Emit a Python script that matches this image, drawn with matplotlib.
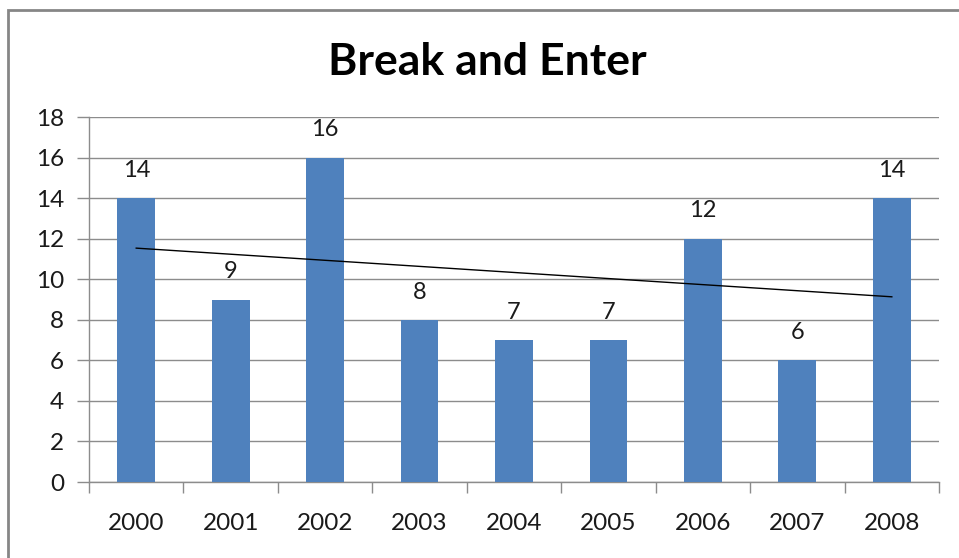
import numpy as np
from matplotlib import pyplot as plt
from matplotlib.patches import Rectangle

# data
years = ['2000', '2001', '2002', '2003', '2004', '2005', '2006', '2007', '2008']
break_enter = [14, 9, 16, 8, 7, 7, 12, 6, 14]

plt.rcParams['font.family'] = ['Lato', 'DejaVu Sans']

fig = plt.figure(figsize=(9.59, 5.58), dpi=100)
ax = fig.add_axes([0.0928, 0.1362, 0.8864, 0.6541])

x = np.arange(len(years))
bars = ax.bar(x, break_enter, width=0.4, color='#4F81BD', zorder=3)

# linear trendline, as Excel would add it
slope, intercept = np.polyfit(x, break_enter, 1)
ax.plot(x, slope * x + intercept, color='black', linewidth=1, zorder=4)

for xi, v in zip(x, break_enter):
    ax.text(xi, v + 0.85, str(v), ha='center', va='bottom', fontsize=17, color='#1a1a1a')

grid_c = '#8C8C8C'
ax.set_ylim(0, 18)
ax.set_xlim(-0.5, len(years) - 0.5)
ax.set_yticks(range(0, 19, 2))
ax.yaxis.grid(True, color=grid_c, linewidth=1)
ax.set_axisbelow(True)

ax.set_xticks(x)
ax.set_xticklabels(years)
ax.set_xticks(np.arange(-0.5, len(years)), minor=True)
ax.tick_params(axis='x', which='major', length=0, pad=22, labelsize=17.5, labelcolor='#1a1a1a')
ax.tick_params(axis='x', which='minor', length=8, color=grid_c, width=1)
ax.tick_params(axis='y', length=9, color=grid_c, width=1, pad=9, labelsize=17.5, labelcolor='#1a1a1a')

for s in ['top', 'right']:
    ax.spines[s].set_visible(False)
for s in ['left', 'bottom']:
    ax.spines[s].set_color(grid_c)
    ax.spines[s].set_linewidth(1)

fig.text(0.508, 0.889, 'Break and Enter', ha='center', va='center',
         fontsize=32, fontweight='bold')

# outer chart border (cut off by the screenshot at right and bottom)
fig.patches.append(Rectangle((0.0083, -0.1), 1.2, 1.082, transform=fig.transFigure,
                             fill=False, edgecolor='#868686', linewidth=2))

fig.savefig('out.png', dpi=100)
